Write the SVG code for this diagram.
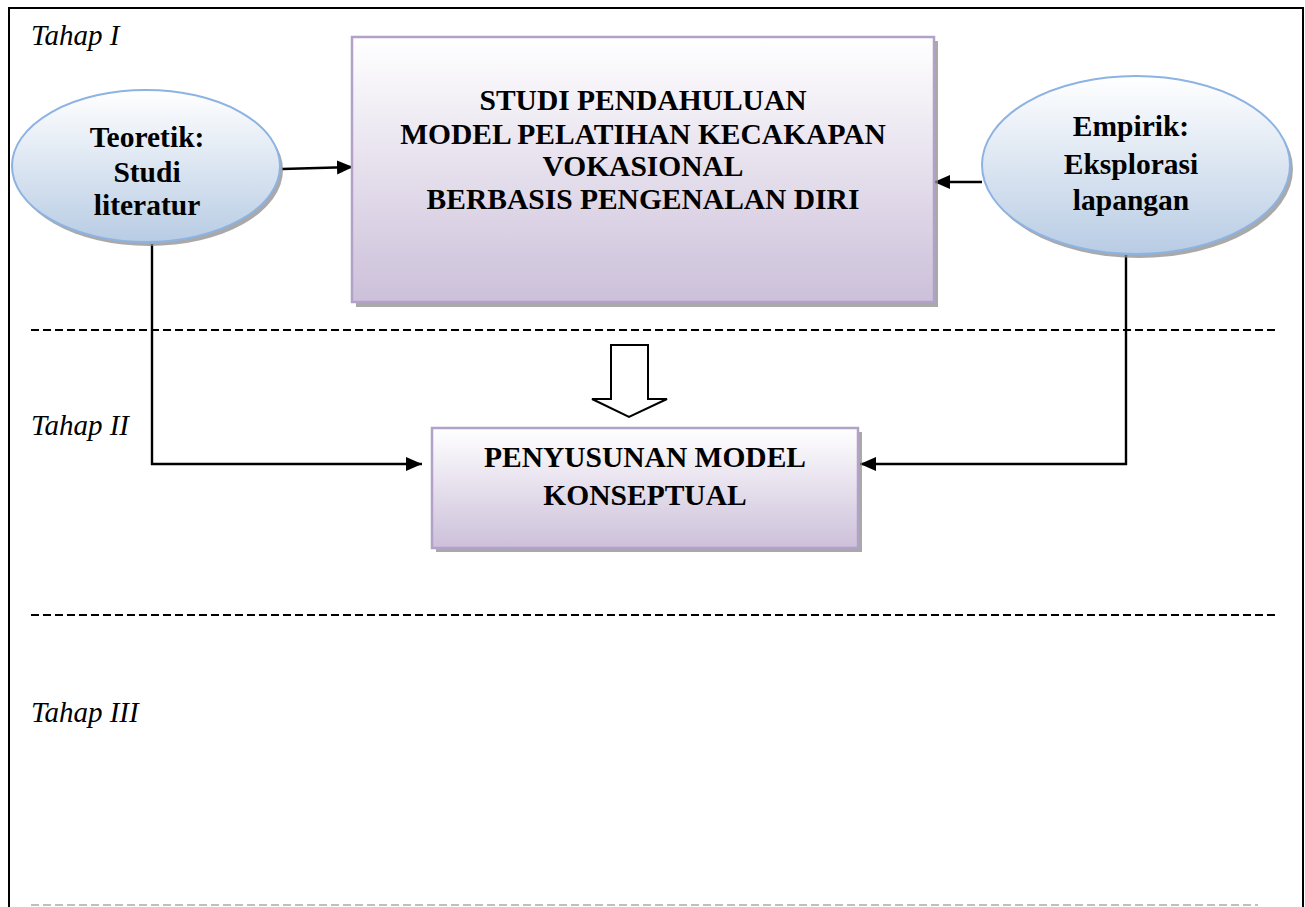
<svg xmlns="http://www.w3.org/2000/svg" width="1305" height="907" viewBox="0 0 1305 907">
<style>
.lbl{font-family:"Liberation Serif","Times New Roman",serif;font-style:italic;font-size:29px;fill:#000}
.bt{font-family:"Liberation Serif","Times New Roman",serif;font-weight:bold;font-size:29.5px;fill:#000;text-anchor:middle}
.ell{fill:url(#gBlue);stroke:#8db3e2;stroke-width:2}
.box{fill:url(#gPurp);stroke:#b3a2c7;stroke-width:2.5}
.sh{fill:#8c8c8c;opacity:0.75}
.con{fill:none;stroke:#000;stroke-width:2.4}
.dash{stroke:#000;stroke-width:2;stroke-dasharray:8 4}
</style>
<defs>
<linearGradient id="gBlue" x1="0" y1="0" x2="0" y2="1">
<stop offset="0" stop-color="#ffffff"/>
<stop offset="1" stop-color="#b8cce4"/>
</linearGradient>
<linearGradient id="gPurp" x1="0" y1="0" x2="0" y2="1">
<stop offset="0" stop-color="#ffffff"/>
<stop offset="1" stop-color="#ccc0da"/>
</linearGradient>
<marker id="ah" markerWidth="16" markerHeight="16" refX="16" refY="8" orient="auto" markerUnits="userSpaceOnUse" viewBox="0 0 16 16">
<path d="M0,1 L16,8 L0,15 z" fill="#000"/>
</marker>
</defs>
<rect x="0" y="0" width="1305" height="907" fill="#fff"/>
<path d="M9,915 V8 H1303 V915" fill="none" stroke="#000" stroke-width="2"/>
<g id="separators">
<line class="dash" x1="31" y1="330" x2="1277" y2="330"/>
<line class="dash" x1="31" y1="615" x2="1277" y2="615"/>
<line x1="31" y1="905" x2="1258" y2="905" stroke="#aaa" stroke-width="1.5" stroke-dasharray="8 4"/>
</g>
<g id="stage-labels">
<text class="lbl" x="31" y="45">Tahap I</text>
<text class="lbl" x="31" y="435">Tahap II</text>
<text class="lbl" x="31" y="722">Tahap III</text>
</g>
<g id="connectors">
<line class="con" x1="282" y1="169" x2="353" y2="167" marker-end="url(#ah)"/>
<line class="con" x1="982" y1="182" x2="934" y2="182" marker-end="url(#ah)"/>
<path class="con" d="M152,244 V464 H422" marker-end="url(#ah)"/>
<path class="con" d="M1126,255 V464 H860" marker-end="url(#ah)"/>
<path d="M611,345 H648 V399 H667 L629,417 L592,399 H611 Z" fill="#fff" stroke="#000" stroke-width="2"/>
</g>
<g id="teoretik">
<ellipse class="sh" cx="149" cy="170" rx="134" ry="76"/>
<ellipse class="ell" cx="146" cy="166" rx="134" ry="76"/>
<text class="bt" x="147" y="147">Teoretik:</text>
<text class="bt" x="147" y="182">Studi</text>
<text class="bt" x="147" y="215">literatur</text>
</g>
<g id="empirik">
<ellipse class="sh" cx="1139" cy="169" rx="154" ry="89"/>
<ellipse class="ell" cx="1136" cy="165" rx="154" ry="89"/>
<text class="bt" x="1131" y="136">Empirik:</text>
<text class="bt" x="1131" y="174">Eksplorasi</text>
<text class="bt" x="1131" y="210">lapangan</text>
</g>
<g id="studi">
<rect class="sh" x="356" y="41" width="582" height="266"/>
<rect class="box" x="352" y="37" width="582" height="265"/>
<text class="bt" x="643" y="110">STUDI PENDAHULUAN</text>
<text class="bt" x="643" y="144">MODEL PELATIHAN KECAKAPAN</text>
<text class="bt" x="643" y="176">VOKASIONAL</text>
<text class="bt" x="643" y="209">BERBASIS PENGENALAN DIRI</text>
</g>
<g id="penyusunan">
<rect class="sh" x="436" y="432" width="426" height="120"/>
<rect class="box" x="432" y="428" width="426" height="120"/>
<text class="bt" x="645" y="467">PENYUSUNAN MODEL</text>
<text class="bt" x="645" y="505">KONSEPTUAL</text>
</g>
</svg>
